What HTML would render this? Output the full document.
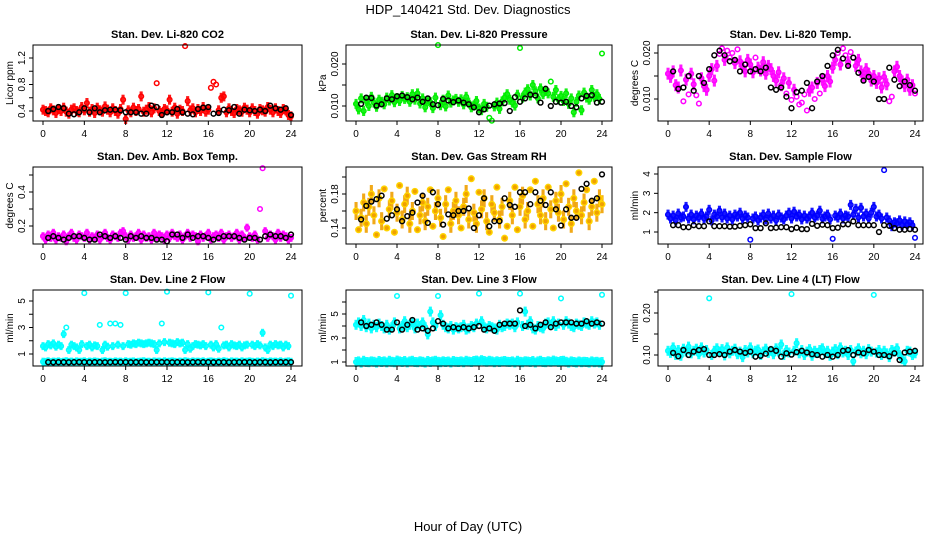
<!DOCTYPE html>
<html><head><meta charset="utf-8"><style>
body{margin:0;background:#fff;}
svg{display:block;font-family:"Liberation Sans",Arial,sans-serif;}
</style></head><body>
<svg id="chart" width="936" height="540" viewBox="0 0 936 540">
<rect width="936" height="540" fill="#fff"/>
<text x="468" y="14" text-anchor="middle" font-size="13">HDP_140421 Std. Dev. Diagnostics</text>
<text x="468" y="531" text-anchor="middle" font-size="13">Hour of Day (UTC)</text>
</svg>
<script>
const xTicks = [0,4,8,12,16,20,24];
const co2Color = [0.42,0.40,0.38,0.44,0.41,0.37,0.43,0.40,0.45,0.39,0.36,0.42,0.44,0.40,0.38,0.46,0.41,0.52,0.39,0.43,0.37,0.45,0.41,0.39,0.47,0.42,0.38,0.44,0.40,0.36,0.43,0.57,0.28,0.41,0.38,0.45,0.40,0.43,0.62,0.39,0.42,0.46,0.38,0.44,0.82,0.40,0.37,0.43,0.41,0.57,0.39,0.45,0.36,0.42,0.40,1.38,0.55,0.41,0.44,0.38,0.43,0.40,0.46,0.39,0.42,0.75,0.84,0.80,0.41,0.60,0.62,0.38,0.44,0.40,0.37,0.43,0.41,0.39,0.45,0.42,0.38,0.44,0.40,0.36,0.43,0.41,0.39,0.46,0.42,0.38,0.44,0.40,0.37,0.43,0.41,0.34,0.32];
const co2Black = [0.40,0.43,0.46,0.44,0.36,0.35,0.38,0.44,0.38,0.44,0.38,0.41,0.42,0.42,0.41,0.38,0.38,0.38,0.36,0.36,0.48,0.46,0.34,0.38,0.38,0.43,0.38,0.36,0.35,0.43,0.45,0.46,0.36,0.37,0.42,0.41,0.46,0.36,0.42,0.41,0.40,0.42,0.40,0.48,0.44,0.42,0.44,0.34];
const presColor = [0.0105,0.0092,0.0118,0.0088,0.0112,0.0100,0.0122,0.0108,0.0098,0.0115,0.0110,0.0104,0.0120,0.0113,0.0126,0.0109,0.0119,0.0112,0.0124,0.0117,0.0121,0.0110,0.0128,0.0115,0.0130,0.0106,0.0118,0.0097,0.0112,0.0109,0.0095,0.0120,0.0245,0.0102,0.0115,0.0099,0.0125,0.0108,0.0113,0.0117,0.0110,0.0116,0.0104,0.0122,0.0108,0.0097,0.0101,0.0112,0.0094,0.0090,0.0105,0.0098,0.0072,0.0065,0.0099,0.0108,0.0093,0.0111,0.0120,0.0128,0.0115,0.0108,0.0101,0.0127,0.0238,0.0120,0.0132,0.0140,0.0125,0.0150,0.0135,0.0118,0.0142,0.0128,0.0136,0.0130,0.0158,0.0122,0.0138,0.0116,0.0124,0.0112,0.0130,0.0105,0.0118,0.0085,0.0110,0.0125,0.0090,0.0132,0.0120,0.0115,0.0138,0.0122,0.0128,0.0117,0.0225];
const presBlack = [0.0105,0.0120,0.0119,0.0101,0.0104,0.0118,0.0116,0.0123,0.0125,0.0121,0.0116,0.0120,0.0110,0.0118,0.0104,0.0102,0.0117,0.0113,0.0109,0.0113,0.0108,0.0104,0.0097,0.0085,0.0092,0.0101,0.0104,0.0106,0.0107,0.0088,0.0121,0.0110,0.0118,0.0127,0.0125,0.0108,0.0141,0.0100,0.0110,0.0108,0.0110,0.0100,0.0097,0.0118,0.0124,0.0126,0.0108,0.0110];
const tempColor = [0.0155,0.0148,0.0160,0.0130,0.0125,0.0162,0.0095,0.0142,0.0110,0.0155,0.0132,0.0108,0.0090,0.0145,0.0128,0.0120,0.0150,0.0165,0.0140,0.0172,0.0198,0.0210,0.0185,0.0205,0.0190,0.0200,0.0178,0.0208,0.0182,0.0170,0.0160,0.0185,0.0175,0.0158,0.0190,0.0168,0.0162,0.0180,0.0155,0.0172,0.0165,0.0150,0.0140,0.0158,0.0130,0.0145,0.0112,0.0135,0.0098,0.0120,0.0105,0.0088,0.0092,0.0110,0.0075,0.0118,0.0125,0.0100,0.0135,0.0112,0.0142,0.0128,0.0150,0.0138,0.0168,0.0185,0.0200,0.0175,0.0210,0.0195,0.0180,0.0202,0.0190,0.0172,0.0185,0.0160,0.0148,0.0165,0.0155,0.0140,0.0150,0.0135,0.0145,0.0125,0.0148,0.0132,0.0095,0.0105,0.0160,0.0170,0.0150,0.0138,0.0128,0.0142,0.0120,0.0130,0.0112];
const tempBlack = [0.0160,0.0122,0.0125,0.0150,0.0118,0.0150,0.0135,0.0165,0.0195,0.0205,0.0195,0.0182,0.0185,0.0160,0.0175,0.0160,0.0165,0.0160,0.0168,0.0125,0.0120,0.0125,0.0105,0.0080,0.0115,0.0118,0.0135,0.0080,0.0138,0.0150,0.0172,0.0195,0.0207,0.0188,0.0172,0.0190,0.0157,0.0140,0.0148,0.0138,0.0100,0.0100,0.0168,0.0142,0.0128,0.0138,0.0130,0.0118];
const ambColor = [0.14,0.12,0.15,0.13,0.16,0.12,0.14,0.13,0.15,0.11,0.14,0.16,0.13,0.12,0.15,0.14,0.13,0.16,0.12,0.14,0.13,0.15,0.12,0.14,0.16,0.13,0.12,0.15,0.14,0.13,0.16,0.17,0.14,0.12,0.15,0.13,0.14,0.16,0.12,0.15,0.13,0.14,0.12,0.16,0.13,0.15,0.14,0.12,0.15,0.13,0.16,0.14,0.13,0.15,0.12,0.14,0.16,0.13,0.15,0.14,0.11,0.15,0.13,0.14,0.16,0.12,0.14,0.15,0.13,0.16,0.12,0.14,0.15,0.13,0.14,0.16,0.12,0.15,0.13,0.19,0.14,0.13,0.15,0.12,0.30,0.54,0.17,0.13,0.15,0.14,0.12,0.16,0.13,0.15,0.14,0.12,0.13];
const ambBlack = [0.13,0.14,0.13,0.12,0.13,0.14,0.14,0.13,0.12,0.12,0.15,0.14,0.13,0.14,0.13,0.12,0.14,0.13,0.14,0.13,0.13,0.12,0.12,0.11,0.15,0.15,0.13,0.15,0.13,0.14,0.14,0.13,0.12,0.13,0.14,0.14,0.14,0.13,0.12,0.13,0.13,0.12,0.14,0.15,0.14,0.14,0.13,0.15];
const rhColor = [0.160,0.138,0.152,0.170,0.145,0.165,0.180,0.155,0.132,0.175,0.148,0.186,0.140,0.162,0.172,0.135,0.158,0.190,0.150,0.168,0.178,0.145,0.160,0.183,0.138,0.155,0.170,0.148,0.165,0.185,0.142,0.160,0.175,0.152,0.130,0.168,0.185,0.145,0.160,0.172,0.155,0.140,0.165,0.180,0.150,0.198,0.158,0.145,0.182,0.162,0.175,0.148,0.135,0.168,0.158,0.188,0.150,0.165,0.128,0.142,0.172,0.155,0.188,0.138,0.165,0.178,0.150,0.160,0.185,0.142,0.195,0.168,0.155,0.175,0.148,0.188,0.162,0.140,0.172,0.158,0.180,0.150,0.192,0.165,0.145,0.175,0.160,0.205,0.155,0.170,0.185,0.148,0.165,0.195,0.158,0.175,0.168];
const rhBlack = [0.150,0.166,0.171,0.174,0.178,0.151,0.155,0.162,0.148,0.154,0.158,0.170,0.178,0.146,0.182,0.168,0.144,0.156,0.155,0.160,0.160,0.163,0.140,0.155,0.175,0.142,0.148,0.148,0.175,0.167,0.165,0.182,0.182,0.168,0.182,0.172,0.167,0.182,0.162,0.143,0.162,0.152,0.152,0.186,0.192,0.172,0.175,0.203];
const flowColor = [1.9,1.7,1.85,1.6,1.95,1.75,1.8,2.3,1.7,1.9,1.65,1.85,1.75,1.95,1.7,1.8,2.15,1.6,1.9,1.8,2.1,1.75,1.95,1.7,1.85,1.65,1.9,1.8,2.0,1.7,1.85,1.75,0.6,1.7,1.8,1.6,1.75,1.9,1.65,1.95,1.7,1.85,1.6,1.9,1.75,1.65,1.85,2.0,1.7,2.05,1.8,1.9,1.65,1.85,1.7,1.8,2.0,1.75,1.85,2.1,1.7,1.8,1.9,1.65,0.65,1.85,1.75,1.95,1.7,1.85,1.8,2.4,1.9,2.2,1.75,2.25,1.8,1.95,1.7,2.0,2.3,1.8,1.9,1.7,4.2,1.75,1.6,1.3,1.5,1.45,1.6,1.35,1.55,1.4,1.5,1.35,0.7];
const flowBlack = [1.35,1.35,1.25,1.25,1.35,1.3,1.3,1.55,1.3,1.3,1.3,1.28,1.28,1.32,1.35,1.4,1.2,1.2,1.45,1.2,1.22,1.25,1.25,1.15,1.22,1.15,1.15,1.42,1.32,1.38,1.35,1.2,1.22,1.4,1.4,1.55,1.35,1.35,1.35,1.35,1.0,1.35,1.32,1.2,1.12,1.12,1.15,1.12];
const line2High = [1.6,1.5,1.75,1.65,1.8,1.55,1.7,1.6,2.5,3.0,1.3,1.7,1.6,1.5,1.3,1.75,5.6,1.6,1.7,1.5,1.65,1.6,3.2,1.3,1.7,1.55,3.3,1.6,3.3,1.7,3.2,1.6,5.6,1.75,1.7,1.8,1.75,1.85,1.8,1.75,1.8,1.85,1.8,1.75,1.3,1.8,3.3,1.9,5.7,1.85,1.8,1.75,1.9,1.8,1.85,1.3,1.75,1.4,1.6,1.75,1.7,1.65,1.75,1.6,5.65,1.7,1.5,1.75,1.4,3.0,1.65,1.7,1.5,1.75,1.65,1.6,1.7,1.5,1.65,1.7,5.55,1.7,1.6,1.75,1.65,2.6,1.5,1.3,1.7,1.6,1.75,1.65,1.7,1.5,1.7,1.6,5.4];
const line2Low = [0.42,0.40,0.45,0.38,0.43,0.41,0.44,0.39,0.42,0.46,0.40,0.43,0.38,0.44,0.41,0.42,0.45,0.39,0.43,0.40,0.44,0.41,0.38,0.43,0.46,0.40,0.42,0.39,0.44,0.41,0.43,0.38,0.45,0.40,0.42,0.44,0.39,0.41,0.43,0.46,0.40,0.42,0.38,0.44,0.41,0.43,0.39,0.45,0.40,0.42,0.44,0.41,0.38,0.43,0.40,0.46,0.42,0.39,0.44,0.41,0.43,0.40,0.45,0.38,0.42,0.44,0.41,0.39,0.43,0.40,0.46,0.42,0.38,0.44,0.41,0.43,0.39,0.45,0.40,0.42,0.44,0.41,0.38,0.43,0.40,0.46,0.42,0.39,0.44,0.41,0.43,0.40,0.45,0.38,0.42,0.44,0.41];
const line2Black = [0.38,0.37,0.38,0.38,0.37,0.38,0.39,0.38,0.37,0.38,0.38,0.37,0.38,0.39,0.38,0.38,0.37,0.38,0.38,0.37,0.38,0.38,0.39,0.38,0.37,0.38,0.38,0.37,0.38,0.39,0.38,0.38,0.37,0.38,0.38,0.37,0.38,0.38,0.39,0.38,0.37,0.38,0.38,0.37,0.38,0.39,0.38,0.38];
const line3High = [4.1,4.3,4.0,4.5,3.9,4.2,3.8,4.1,3.9,4.2,4.0,3.8,4.1,3.7,3.9,4.3,6.5,3.8,4.0,4.4,3.9,4.1,4.3,3.8,4.2,4.0,4.3,3.9,3.3,5.2,4.3,4.0,6.5,4.9,4.1,3.9,3.8,4.0,3.7,3.9,3.8,3.9,4.1,3.7,3.8,4.0,3.9,4.2,6.7,4.4,3.9,3.8,4.0,3.9,3.8,3.7,4.1,3.9,4.0,4.2,4.1,4.2,3.9,4.3,6.7,4.0,5.2,4.1,4.4,3.8,3.7,4.0,3.9,3.8,4.2,4.3,4.1,4.4,4.0,4.2,6.3,4.1,4.4,4.2,4.0,3.9,4.2,4.1,4.0,4.3,4.2,4.1,4.4,4.2,4.3,4.1,6.6];
const line3Low = [1.0,1.05,0.95,1.1,1.0,0.98,1.05,1.02,0.95,1.08,1.0,1.05,0.97,1.1,1.02,0.98,1.12,1.05,1.0,1.08,0.97,1.05,1.1,1.0,0.98,1.06,1.02,0.95,1.08,1.0,1.05,1.1,1.02,0.98,1.06,1.0,1.04,0.96,1.08,1.02,1.0,1.05,0.98,1.1,1.03,1.0,1.08,1.12,1.05,1.15,1.08,1.02,1.1,1.05,0.98,1.06,1.0,1.04,1.08,1.02,1.0,1.05,0.97,1.1,1.02,0.98,1.06,1.03,1.0,1.08,0.96,1.05,1.1,1.0,0.98,1.06,1.02,1.12,1.05,1.0,1.08,1.1,1.02,0.95,1.05,1.0,0.96,1.04,0.98,1.02,1.0,0.95,1.05,0.98,1.02,0.96,1.0];
const line3Black = [4.3,4.0,4.1,4.3,4.1,3.7,3.7,4.3,3.7,4.1,4.5,3.7,3.8,3.6,3.8,4.4,4.2,3.8,3.9,3.8,3.9,3.8,3.9,4.0,3.7,3.8,3.6,4.1,4.2,4.2,4.2,5.3,4.0,4.1,3.8,4.1,4.3,3.9,4.2,4.3,4.3,4.3,4.2,4.2,4.4,4.2,4.3,4.2];
const line4Color = [0.110,0.105,0.118,0.100,0.112,0.098,0.115,0.108,0.120,0.104,0.110,0.115,0.102,0.118,0.106,0.112,0.235,0.100,0.110,0.116,0.108,0.114,0.099,0.118,0.104,0.110,0.115,0.102,0.108,0.095,0.112,0.106,0.118,0.104,0.110,0.113,0.100,0.108,0.115,0.105,0.110,0.102,0.116,0.108,0.125,0.100,0.112,0.106,0.245,0.110,0.128,0.104,0.112,0.100,0.108,0.114,0.098,0.110,0.105,0.112,0.116,0.104,0.110,0.098,0.108,0.114,0.102,0.118,0.106,0.110,0.100,0.112,0.085,0.108,0.116,0.104,0.110,0.102,0.114,0.108,0.243,0.106,0.112,0.100,0.110,0.104,0.095,0.112,0.108,0.116,0.100,0.090,0.085,0.110,0.108,0.100,0.104];
const line4Black = [0.105,0.097,0.112,0.100,0.108,0.112,0.114,0.100,0.100,0.102,0.100,0.108,0.112,0.108,0.105,0.108,0.096,0.098,0.103,0.114,0.110,0.096,0.104,0.101,0.107,0.110,0.106,0.102,0.100,0.096,0.100,0.096,0.100,0.110,0.112,0.100,0.106,0.104,0.112,0.108,0.100,0.100,0.097,0.104,0.088,0.106,0.108,0.110];

const NS = "http://www.w3.org/2000/svg";
const svg = document.getElementById('chart');
function mk(tag, attrs, parent){const e=document.createElementNS(NS,tag);for(const k in attrs)e.setAttribute(k,attrs[k]);(parent||svg).appendChild(e);return e;}

const colX = [{bx0:33,bx1:302,x0:43,x24:291},{bx0:346,bx1:612,x0:356,x24:602},{bx0:658,bx1:923,x0:668,x24:915}];
const rowY = [{by0:45,by1:121},{by0:167,by1:244},{by0:290,by1:366}];

const panels = [
 {key:'co2',title:'Stan. Dev. Li-820 CO2',ylab:'Licor ppm',c:0,r:0,v0:0.4,p0:111,v1:1.2,p1:58,ticks:[0.4,0.6,0.8,1.0,1.2],labels:['0.4','0.8','1.2'],lv:[0.4,0.8,1.2],series:[[co2Color,'#ff0000',null]],black:co2Black,band:5},
 {key:'pressure',title:'Stan. Dev. Li-820 Pressure',ylab:'kPa',c:1,r:0,v0:0.010,p0:106,v1:0.020,p1:64,ticks:[0.010,0.015,0.020],labels:['0.010','0.020'],lv:[0.010,0.020],series:[[presColor,'#00ee00',null]],black:presBlack,band:5},
 {key:'temp',title:'Stan. Dev. Li-820 Temp.',ylab:'degrees C',c:2,r:0,v0:0.010,p0:99,v1:0.020,p1:53,ticks:[0.010,0.015,0.020],labels:['0.010','0.020'],lv:[0.010,0.020],series:[[tempColor,'#ff00ff',null]],black:tempBlack,band:6},
 {key:'amb',title:'Stan. Dev. Amb. Box Temp.',ylab:'degrees C',c:0,r:1,v0:0.2,p0:226,v1:0.4,p1:192,ticks:[0.2,0.3,0.4,0.5],labels:['0.2','0.4'],lv:[0.2,0.4],series:[[ambColor,'#ff00ff',null]],black:ambBlack,band:4},
 {key:'rh',title:'Stan. Dev. Gas Stream RH',ylab:'percent',c:1,r:1,v0:0.14,p0:228,v1:0.18,p1:194,ticks:[0.14,0.16,0.18,0.20],labels:['0.14','0.18'],lv:[0.14,0.18],series:[[rhColor,'#ffd400','#f0a000']],black:rhBlack,band:9},
 {key:'sample',title:'Stan. Dev. Sample Flow',ylab:'ml/min',c:2,r:1,v0:1,p0:232,v1:4,p1:174,ticks:[1,2,3,4],labels:['1','2','3','4'],lv:[1,2,3,4],series:[[flowColor,'#0000ff',null]],black:flowBlack,band:5},
 {key:'line2',title:'Stan. Dev. Line 2 Flow',ylab:'ml/min',c:0,r:2,v0:1,p0:354,v1:5,p1:301,ticks:[1,2,3,4,5],labels:['1','3','5'],lv:[1,3,5],series:[[line2High,'#00ffff',null],[line2Low,'#00ffff',null]],black:line2Black,band:4},
 {key:'line3',title:'Stan. Dev. Line 3 Flow',ylab:'ml/min',c:1,r:2,v0:1,p0:362,v1:5,p1:314,ticks:[1,2,3,4,5,6],labels:['1','3','5'],lv:[1,3,5],series:[[line3High,'#00ffff',null],[line3Low,'#00ffff',null]],black:line3Black,band:5},
 {key:'line4',title:'Stan. Dev. Line 4 (LT) Flow',ylab:'ml/min',c:2,r:2,v0:0.10,p0:355,v1:0.20,p1:313,ticks:[0.10,0.15,0.20,0.25],labels:['0.10','0.20'],lv:[0.10,0.20],series:[[line4Color,'#00ffff',null]],black:line4Black,band:5}
];

function median(a){const s=[...a].sort((x,y)=>x-y);return s[Math.floor(s.length/2)];}

panels.forEach(p=>{
  const cx=colX[p.c], ry=rowY[p.r];
  const g=mk('g',{});
  
  
  const xs=h=>cx.x0+(cx.x24-cx.x0)*h/24;
  const ys=v=>p.p0+(p.p1-p.p0)*(v-p.v0)/(p.v1-p.v0);
  const pts=mk('g',{},g);
  
  
  const bandG=mk('g',{},pts);
  
  
  const H=ry.by1-ry.by0;
  p.series.forEach(s=>{
    const arr=s[0], n=arr.length, med=ys(median(arr));
    const step=(cx.x24-cx.x0)/(n-1);
    arr.forEach((v,i)=>{
      const h=24*i/(n-1), px=xs(h), py=ys(v);
      if(Math.abs(py-med)<H*0.22){
        const b=mk('rect',{x:(px-step*0.6).toFixed(1),y:(py-p.band).toFixed(1),width:(step*1.2).toFixed(1),height:p.band*2,fill:s[2]||s[1],opacity:0.9},bandG);
        
        
      }
      const c=mk('circle',{cx:px.toFixed(1),cy:py.toFixed(1),r:p.key==='rh'?2.8:2.3,fill:s[2]||'none',stroke:s[1],'stroke-width':1.5},pts);
      
      
    });
  });
  p.black.forEach((v,j)=>{
    const h=(j+1)/2;
    const c=mk('circle',{cx:xs(h).toFixed(1),cy:ys(v).toFixed(1),r:2.4,fill:'none',stroke:'#000','stroke-width':1.5},pts);
    
    
  });
  const box=mk('rect',{x:cx.bx0,y:ry.by0,width:cx.bx1-cx.bx0,height:ry.by1-ry.by0,fill:'none',stroke:'#000','stroke-width':1},g);
  
  
  const t=mk('text',{x:(cx.bx0+cx.bx1)/2,y:ry.by0-7,'text-anchor':'middle','font-size':11,'font-weight':'bold'},g);
  t.textContent=p.title;
  
  
  xTicks.forEach(h=>{
    mk('line',{x1:xs(h),x2:xs(h),y1:ry.by1,y2:ry.by1+4,stroke:'#000'},g);
    const tl=mk('text',{x:xs(h),y:ry.by1+16,'text-anchor':'middle','font-size':10},g);
    tl.textContent=h;
    
    
  });
  p.ticks.forEach(v=>{
    const y=ys(v);
    if(y>=ry.by0-1&&y<=ry.by1+1) mk('line',{x1:cx.bx0-4,x2:cx.bx0,y1:y,y2:y,stroke:'#000'},g);
  });
  p.labels.forEach((l,k)=>{
    const y=ys(p.lv[k]), x=cx.bx0-8;
    const tl=mk('text',{x:x,y:y,'text-anchor':'middle','font-size':10,transform:`rotate(-90 ${x} ${y})`},g);
    tl.textContent=l;
    
    
  });
  const yx=cx.bx0-20, yy=(ry.by0+ry.by1)/2;
  const yl=mk('text',{x:yx,y:yy,'text-anchor':'middle','font-size':10,transform:`rotate(-90 ${yx} ${yy})`},g);
  yl.textContent=p.ylab;
  
  
});
</script>
</body></html>
